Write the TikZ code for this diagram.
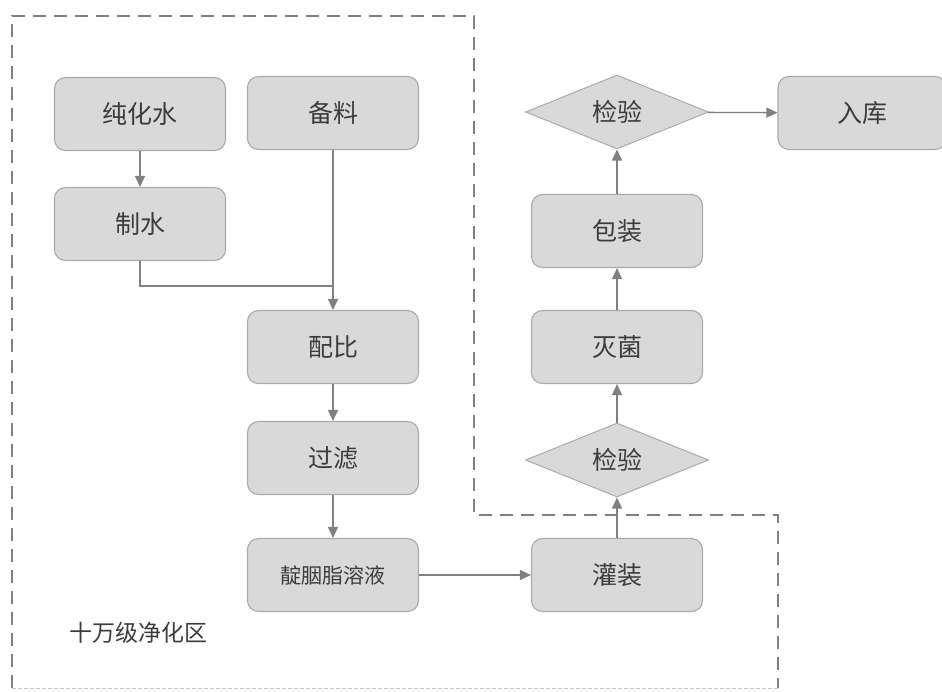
\documentclass[tikz,border=0pt]{standalone}
\usepackage{fontspec}
\setmainfont{Noto Sans CJK SC}
\usepackage{tikz}
\usetikzlibrary{arrows.meta, shapes.geometric}
\definecolor{boxfill}{RGB}{217,217,217}
\definecolor{boxline}{RGB}{170,170,170}
\definecolor{flowline}{RGB}{128,128,128}
\definecolor{labelgray}{RGB}{60,60,60}

\tikzset{
  procbox/.style={draw=boxline, fill=boxfill, line width=1.1pt, rounded corners=11pt,
    minimum width=171pt, minimum height=73pt, inner sep=0pt, text=labelgray,
    font=\fontsize{25}{29}\selectfont},
  checkbox/.style={diamond, draw=boxline, fill=boxfill, line width=1pt,
    minimum width=183pt, minimum height=74pt, inner sep=0pt, text=labelgray,
    font=\fontsize{25}{29}\selectfont},
  flow/.style={draw=flowline, line width=1.3pt, -{Triangle[length=11pt,width=10pt]}},
  zone/.style={draw=flowline, line width=2pt, dash pattern=on 13pt off 8pt}
}

\begin{document}
\begin{tikzpicture}[x=1pt, y=-1pt]
  \useasboundingbox (0,0) rectangle (942,691);
  % clean zone boundary
  \draw[zone] (12,688) -- (12,16) -- (474,16) -- (474,515) -- (778,515) -- (778,688);
  \draw[draw=flowline!45, line width=1pt, dash pattern=on 4pt off 2pt] (12,688) -- (778,688);
  \node[text=labelgray, font=\fontsize{23}{27}\selectfont, anchor=west] (zonelabel) at (66,633) {十万级净化区};

  % left column
  \node[procbox] (chunhua) at (140,114) {纯化水};
  \node[procbox] (beiliao) at (333,113) {备料};
  \node[procbox] (zhishui) at (140,224) {制水};
  \node[procbox] (peibi) at (333,347) {配比};
  \node[procbox] (guolv) at (333,458) {过滤};
  \node[procbox, font=\fontsize{21}{25}\selectfont] (rongye) at (333,575) {靛胭脂溶液};

  % right column
  \node[procbox] (guanzhuang) at (617,575) {灌装};
  \node[checkbox] (jianyanA) at (617,460) {检验};
  \node[procbox] (miejun) at (617,347) {灭菌};
  \node[procbox] (baozhuang) at (617,231) {包装};
  \node[checkbox] (jianyanB) at (617,112) {检验};
  \node[procbox, minimum width=168pt] (ruku) at (862,113) {入库};

  % connectors
  \coordinate (merge) at (333,286);
  \draw[flow] (chunhua) -- (zhishui);
  \draw[draw=flowline, line width=1.3pt] (zhishui.south) |- (merge);
  \draw[flow] (beiliao) -- (peibi);
  \draw[flow] (peibi) -- (guolv);
  \draw[flow] (guolv) -- (rongye);
  \draw[flow] (rongye) -- (guanzhuang);
  \draw[flow] (guanzhuang) -- (jianyanA);
  \draw[flow] (jianyanA) -- (miejun);
  \draw[flow] (miejun) -- (baozhuang);
  \draw[flow] (baozhuang) -- (jianyanB);
  \draw[flow] (jianyanB) -- (ruku);
\end{tikzpicture}
\end{document}
